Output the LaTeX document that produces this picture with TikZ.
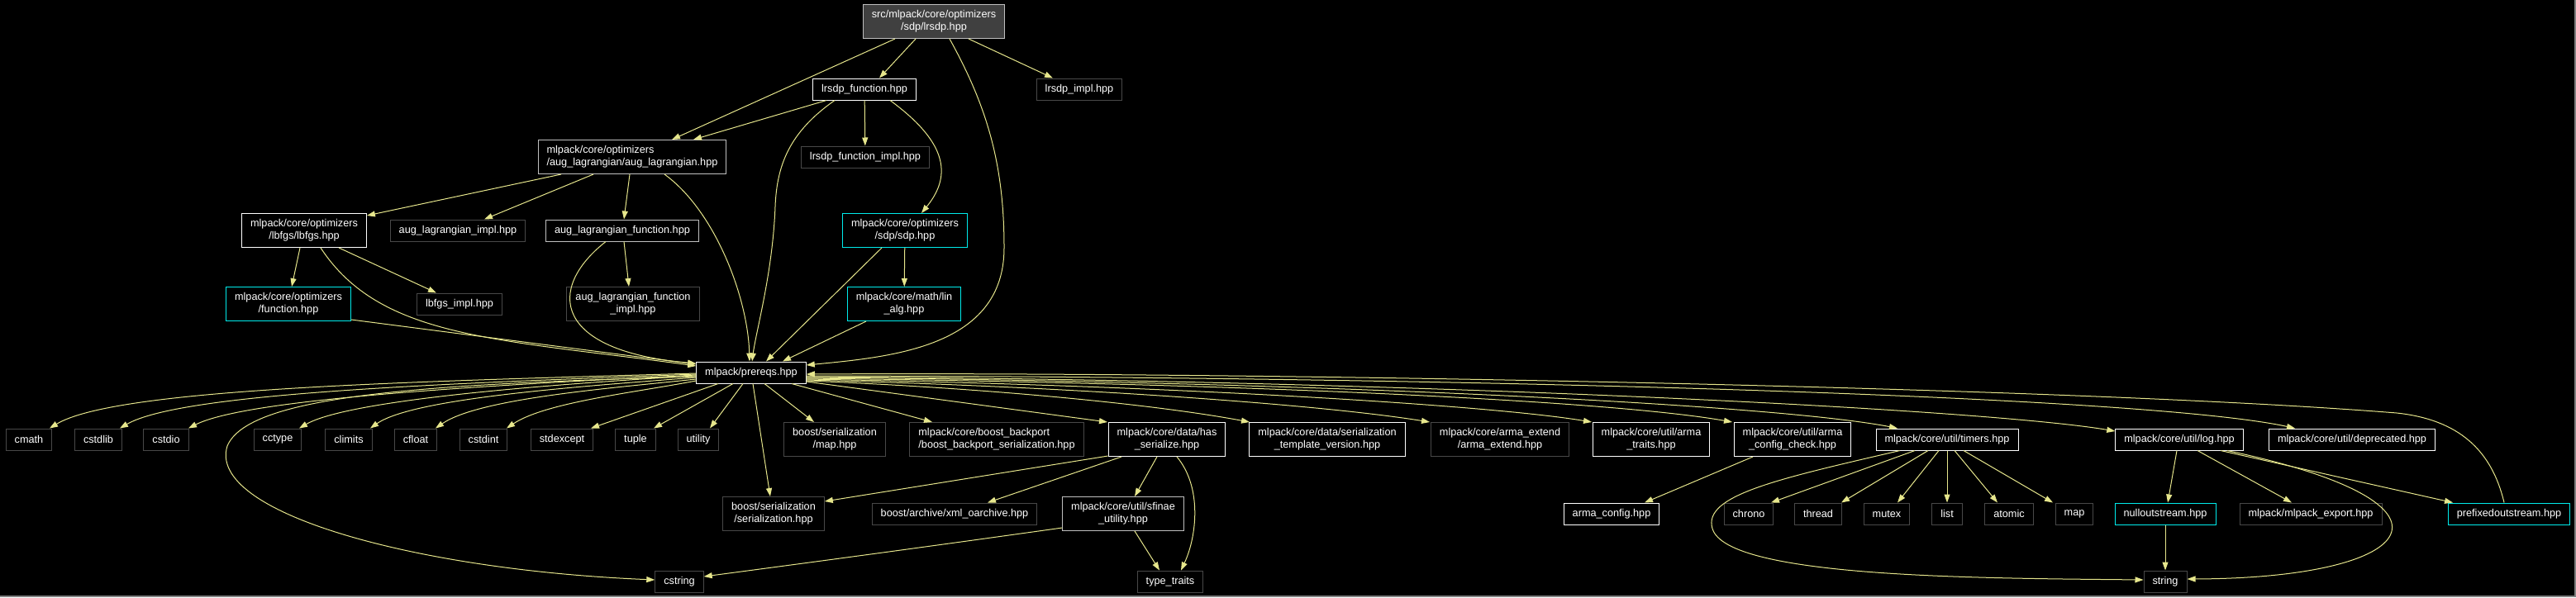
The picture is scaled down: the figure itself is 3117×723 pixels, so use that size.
\documentclass[tikz,border=0pt]{standalone}
\usepackage{fontspec}
\setmainfont{Liberation Sans}
\usetikzlibrary{arrows.meta}
\definecolor{edgecol}{RGB}{230,230,140}
\definecolor{rootfill}{RGB}{64,64,64}
\definecolor{sysline}{RGB}{72,72,72}
\definecolor{silver}{RGB}{191,191,191}
\definecolor{cyanline}{RGB}{0,235,235}

\begin{document}
\begin{tikzpicture}[
  x=1pt, y=-1pt,
  hdr/.style={draw=white, line width=1pt, fill=black, text=white, inner xsep=10.5pt, inner ysep=1pt,
    minimum height=26pt, font=\fontsize{12.7}{15}\selectfont, align=center},
  hdrg/.style={hdr, draw=silver},
  sys/.style={hdr, draw=sysline},
  ext/.style={hdr, draw=cyanline},
  rootbox/.style={hdr, draw=silver, fill=rootfill},
  two/.style={minimum height=41pt},
  inc/.style={draw=edgecol, line width=1pt, -{Triangle[length=10pt,width=7pt]}}
]
  \fill[black] (0,0) rectangle (3117,723);
  \useasboundingbox (0,0) rectangle (3117,723);
  \draw[gray, line width=1.5pt] (3116,0) -- (3116,722) -- (0,722);

  \node[rootbox, two] (root) at (1130,26) {src/mlpack/core/optimizers\\/sdp/lrsdp.hpp};
  \node[hdr] (lrfun) at (1046,108) {lrsdp\_function.hpp};
  \node[sys] (lrimpl) at (1306,108) {lrsdp\_impl.hpp};
  \node[sys] (lrfunimpl) at (1047,190) {lrsdp\_function\_impl.hpp};
  \node[hdrg, two, align=left] (auglag) at (765,190) {mlpack/core/optimizers\\/aug\_lagrangian/aug\_lagrangian.hpp};

  \node[hdr, two] (lbfgs) at (368,279) {mlpack/core/optimizers\\/lbfgs/lbfgs.hpp};
  \node[sys] (auglagimpl) at (554,279) {aug\_lagrangian\_impl.hpp};
  \node[hdrg] (auglagfun) at (753,279) {aug\_lagrangian\_function.hpp};
  \node[ext, two] (sdp) at (1095,279) {mlpack/core/optimizers\\/sdp/sdp.hpp};

  \node[ext, two] (function) at (349,368) {mlpack/core/optimizers\\/function.hpp};
  \node[sys] (lbfgsimpl) at (556,368) {lbfgs\_impl.hpp};
  \node[sys, two] (auglagfunimpl) at (766,368) {aug\_lagrangian\_function\\\_impl.hpp};
  \node[ext, two] (linalg) at (1094,368) {mlpack/core/math/lin\\\_alg.hpp};

  \node[hdr] (prereqs) at (909,451) {mlpack/prereqs.hpp};

  \node[sys] (cmath) at (35,532) {cmath};
  \node[sys] (cstdlib) at (119,532) {cstdlib};
  \node[sys] (cstdio) at (201,532) {cstdio};
  \node[sys] (cctype) at (336,532) {cctype};
  \node[sys] (climits) at (422,532) {climits};
  \node[sys] (cfloat) at (503,532) {cfloat};
  \node[sys] (cstdint) at (585,532) {cstdint};
  \node[sys] (stdexcept) at (680,532) {stdexcept};
  \node[sys] (tuple) at (769,532) {tuple};
  \node[sys] (utility) at (845,532) {utility};
  \node[sys, two] (smap) at (1010,532) {boost/serialization\\/map.hpp};
  \node[sys, two, align=left] (boostbp) at (1206,532) {mlpack/core/boost\_backport\\/boost\_backport\_serialization.hpp};
  \node[hdr, two] (hasser) at (1412,532) {mlpack/core/data/has\\\_serialize.hpp};
  \node[hdr, two] (sertv) at (1606,532) {mlpack/core/data/serialization\\\_template\_version.hpp};
  \node[sys, two] (armaext) at (1815,532) {mlpack/core/arma\_extend\\/arma\_extend.hpp};
  \node[hdr, two] (armatraits) at (1998,532) {mlpack/core/util/arma\\\_traits.hpp};
  \node[hdr, two] (armacc) at (2169,532) {mlpack/core/util/arma\\\_config\_check.hpp};
  \node[hdr] (timers) at (2356,532) {mlpack/core/util/timers.hpp};
  \node[hdr] (logh) at (2637,532) {mlpack/core/util/log.hpp};
  \node[hdr] (deprecated) at (2846,532) {mlpack/core/util/deprecated.hpp};

  \node[sys, two] (serial) at (936,622) {boost/serialization\\/serialization.hpp};
  \node[sys] (xmlo) at (1155,622) {boost/archive/xml\_oarchive.hpp};
  \node[hdrg, two] (sfinae) at (1359,622) {mlpack/core/util/sfinae\\\_utility.hpp};
  \node[hdr] (armaconf) at (1950,622) {arma\_config.hpp};
  \node[sys] (chrono) at (2116,622) {chrono};
  \node[sys] (thread) at (2200,622) {thread};
  \node[sys] (mutex) at (2283,622) {mutex};
  \node[sys] (list) at (2356,622) {list};
  \node[sys] (atomic) at (2431,622) {atomic};
  \node[sys] (mapn) at (2510,622) {map};
  \node[ext] (nullos) at (2620,622) {nulloutstream.hpp};
  \node[sys] (mlexport) at (2796,622) {mlpack/mlpack\_export.hpp};
  \node[ext] (prefos) at (3036,622) {prefixedoutstream.hpp};

  \node[sys] (cstring) at (822,704) {cstring};
  \node[sys] (typetraits) at (1416,704) {type\_traits};
  \node[sys] (string) at (2620,704) {string};

  \draw[inc] ([xshift=-47pt]root.south) -- ([xshift=48pt]auglag.north);
  \draw[inc] ([xshift=-22pt]root.south) -- ([xshift=18pt]lrfun.north);
  \draw[inc] ([xshift=42pt]root.south) -- ([xshift=-32pt]lrimpl.north);
  \draw[inc] ([xshift=19pt]root.south) .. controls (1195,130) and (1215,200) .. (1215,300)
    .. controls (1215,420) and (1080,432) .. ([yshift=9pt]prereqs.east);
  \draw[inc] ([xshift=-46pt]lrfun.south) -- ([xshift=74pt]auglag.north);
  \draw[inc] (lrfun) -- (lrfunimpl);
  \draw[inc] ([xshift=31pt]lrfun.south) .. controls (1150,175) and (1150,215) .. ([xshift=20pt]sdp.north);
  \draw[inc] ([xshift=-36pt]lrfun.south) .. controls (955,160) and (940,200) .. (938,250)
    .. controls (935,330) and (915,400) .. ([xshift=1pt]prereqs.north);

  \draw[inc] ([xshift=-86pt]auglag.south) -- ([yshift=-3pt]lbfgs.north east);
  \draw[inc] ([xshift=-47pt]auglag.south) -- ([xshift=32pt]auglagimpl.north);
  \draw[inc] ([xshift=-3pt]auglag.south) -- ([xshift=2pt]auglagfun.north);
  \draw[inc] ([xshift=39pt]auglag.south) .. controls (865,255) and (905,360) .. ([xshift=-2pt]prereqs.north);

  \draw[inc] ([xshift=-5pt]lbfgs.south) -- ([xshift=4pt]function.north);
  \draw[inc] ([xshift=42pt]lbfgs.south) -- ([xshift=-28pt]lbfgsimpl.north);
  \draw[inc] ([xshift=20pt]lbfgs.south) .. controls (460,410) and (600,410) .. ([yshift=8pt]prereqs.west);
  \draw[inc] ([yshift=2pt]function.south east) -- ([yshift=10pt]prereqs.west);
  \draw[inc] ([xshift=2pt]auglagfun.south) -- ([xshift=-5pt]auglagfunimpl.north);
  \draw[inc] ([xshift=-20pt]auglagfun.south) .. controls (660,350) and (670,425) .. ([yshift=11pt]prereqs.west);
  \draw[inc] (sdp) -- (linalg);
  \draw[inc] ([xshift=-28pt]sdp.south) -- ([xshift=18pt]prereqs.north);
  \draw[inc] ([xshift=-46pt]linalg.south) -- ([xshift=38pt]prereqs.north);

  \draw[inc] ([yshift=-1pt]prereqs.west) .. controls (500,462) and (140,470) .. ([xshift=25pt]cmath.north);
  \draw[inc] ([yshift=-2pt]prereqs.west) .. controls (550,464) and (220,475) .. ([xshift=26pt]cstdlib.north);
  \draw[inc] ([yshift=-3pt]prereqs.west) .. controls (600,466) and (300,482) .. ([xshift=27pt]cstdio.north);
  \draw[inc] ([yshift=-4pt]prereqs.west) .. controls (650,466) and (420,485) .. ([xshift=26pt]cctype.north);
  \draw[inc] ([yshift=-6pt]prereqs.west) .. controls (700,468) and (500,482) .. ([xshift=26pt]climits.north);
  \draw[inc] ([yshift=-8pt]prereqs.west) .. controls (740,470) and (580,482) .. ([xshift=24pt]cfloat.north);
  \draw[inc] ([yshift=-10pt]prereqs.west) .. controls (770,475) and (660,487) .. ([xshift=28pt]cstdint.north);
  \draw[inc] ([xshift=-40pt]prereqs.south) -- ([xshift=35pt]stdexcept.north);
  \draw[inc] ([xshift=-22pt]prereqs.south) -- ([xshift=22pt]tuple.north);
  \draw[inc] ([xshift=-10pt]prereqs.south) -- ([xshift=14pt]utility.north);
  \draw[inc] ([xshift=2pt]prereqs.south) -- ([xshift=-4pt]serial.north);
  \draw[inc] ([xshift=16pt]prereqs.south) -- ([xshift=-25pt]smap.north);
  \draw[inc] ([yshift=-5pt]prereqs.west) .. controls (500,465) and (300,480) .. (275,540)
    .. controls (250,620) and (500,690) .. ([yshift=2pt]cstring.west);

  \draw[inc] ([xshift=49pt]prereqs.south) -- ([xshift=-78pt]boostbp.north);
  \draw[inc] ([yshift=-11pt]prereqs.east) -- ([xshift=-72pt]hasser.north);
  \draw[inc] ([yshift=-10pt]prereqs.east) .. controls (1200,470) and (1400,490) .. ([xshift=-94pt]sertv.north);
  \draw[inc] ([yshift=-9pt]prereqs.east) .. controls (1300,468) and (1600,490) .. ([xshift=-85pt]armaext.north);
  \draw[inc] ([yshift=-8pt]prereqs.east) .. controls (1400,466) and (1800,490) .. ([xshift=-72pt]armatraits.north);
  \draw[inc] ([yshift=-7pt]prereqs.east) .. controls (1500,464) and (1950,485) .. ([xshift=-73pt]armacc.north);
  \draw[inc] ([yshift=-6pt]prereqs.east) .. controls (1600,462) and (2150,490) .. ([xshift=-60pt]timers.north);
  \draw[inc] ([yshift=-5pt]prereqs.east) .. controls (1700,460) and (2400,495) .. ([yshift=10pt]logh.west);
  \draw[inc] ([yshift=-4pt]prereqs.east) .. controls (1800,456) and (2600,480) .. ([xshift=-69pt]deprecated.north);
  \draw[inc] ([xshift=-6pt]prefos.north) .. controls (3015,545) and (2975,508) .. (2900,500)
    .. controls (2500,468) and (1500,450) .. ([yshift=-2pt]prereqs.east);

  \draw[inc] ([yshift=1pt]hasser.south west) -- ([yshift=15pt]serial.east);
  \draw[inc] ([xshift=-55pt]hasser.south) -- ([xshift=40pt]xmlo.north);
  \draw[inc] ([xshift=-12pt]hasser.south) -- ([xshift=14pt]sfinae.north);
  \draw[inc] ([xshift=12pt]hasser.south) .. controls (1455,590) and (1448,650) .. ([xshift=13pt]typetraits.north);
  \draw[inc] ([xshift=14pt]sfinae.south) -- ([xshift=-13pt]typetraits.north);
  \draw[inc] ([yshift=-17pt]sfinae.west) .. controls (1100,665) and (950,685) .. ([yshift=6pt]cstring.east);
  \draw[inc] ([xshift=-48pt]armacc.south) -- ([xshift=40pt]armaconf.north);

  \draw[inc] ([xshift=-39pt]timers.south) -- ([xshift=27pt]chrono.north);
  \draw[inc] ([xshift=-23pt]timers.south) -- ([xshift=28pt]thread.north);
  \draw[inc] ([xshift=-10pt]timers.south) -- ([xshift=13pt]mutex.north);
  \draw[inc] (timers) -- (list);
  \draw[inc] ([xshift=9pt]timers.south) -- ([xshift=-14pt]atomic.north);
  \draw[inc] ([xshift=20pt]timers.south) -- ([xshift=-26pt]mapn.north);
  \draw[inc] ([xshift=-57pt]timers.south) .. controls (2150,580) and (2060,600) .. (2072,640)
    .. controls (2090,700) and (2400,700) .. ([yshift=2pt]string.west);

  \draw[inc] ([xshift=-3pt]logh.south) -- ([xshift=3pt]nullos.north);
  \draw[inc] ([xshift=22pt]logh.south) -- ([xshift=-23pt]mlexport.north);
  \draw[inc] ([xshift=50pt]logh.south) -- ([xshift=-68pt]prefos.north);
  \draw[inc] ([xshift=58pt]logh.south) .. controls (3000,610) and (2930,700) .. ([yshift=3pt]string.east);
  \draw[inc] (nullos) -- (string);
\end{tikzpicture}
\end{document}
